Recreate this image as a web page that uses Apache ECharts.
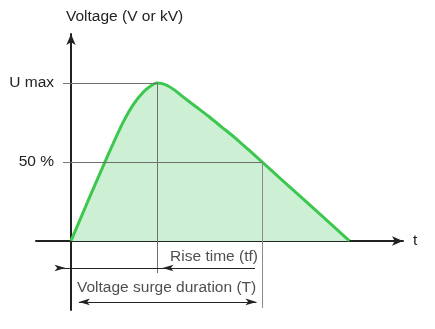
<!DOCTYPE html>
<html>
<head>
<meta charset="utf-8">
<script src="https://cdn.jsdelivr.net/npm/echarts@6/dist/echarts.min.js"></script>
<style>html,body{margin:0;padding:0;background:#fff}#c{width:435px;height:329px}</style>
</head>
<body>
<div id="c"></div>
<script>
// Surge waveform (time units arbitrary, voltage in % of U max)
const timeValues = [0, 4.2, 8.5, 10.6, 13.1, 15.6, 18.1, 20, 21.5, 22.8, 24.3, 26, 27.7, 31, 34.3, 37.7, 41, 44.3, 47.75, 57.25, 69.6];
const voltageValues = [0, 25, 50, 62, 75.5, 86.5, 94.3, 98.3, 100, 99.6, 98.1, 95.3, 91.8, 85.4, 79.1, 72.1, 65.3, 57.9, 50, 28.4, 0];
const yTickValues = [50, 100];
const yTickLabels = ['50 %', 'U max'];
const axisNames = { x: 't', y: 'Voltage (V or kV)' };
const riseTime = 21.5;      // tf
const surgeDuration = 47.75; // T
const annotationTexts = ['Rise time (tf)', 'Voltage surge duration (T)'];
const annotationPos = [[35.75, -10.1], [23.9, -29.7]];
const riseArrowY = -17.1;
const surgeArrowY = -38.6;

const xMin = -8.75, xMax = 83, yMin = -43.7, yMax = 131;
const wave = timeValues.map((t, i) => [t, voltageValues[i]]);
const textCol = '#222';
const FS = 15.5;
const helper = { color: '#6f6f6f', width: 1, type: 'solid' };
const arrowStyle = { color: '#222', width: 1, type: 'solid' };
const AH = [5, 11];
const aOff = 1.375; // half arrow length in x units

const chart = echarts.init(document.getElementById('c'), null, { renderer: 'canvas' });
chart.setOption({
  animation: false,
  backgroundColor: '#fff',
  textStyle: { fontFamily: 'Liberation Sans, Arial, sans-serif' },
  grid: { left: 36, right: 32, top: 34, bottom: 19, containLabel: false, outerBoundsMode: 'none' },
  xAxis: {
    type: 'value', min: xMin, max: xMax,
    name: axisNames.x, nameGap: 10,
    nameTextStyle: { fontSize: FS, color: textCol },
    axisLine: { onZero: true, lineStyle: { color: '#222', width: 2 }, symbol: ['none', 'arrow'], symbolSize: [7, 11] },
    axisTick: { show: false }, axisLabel: { show: false }, splitLine: { show: false }
  },
  yAxis: {
    type: 'value', min: yMin, max: yMax,
    name: axisNames.y, nameGap: 9, nameLocation: 'end',
    nameTextStyle: { fontSize: FS, color: textCol, align: 'left', padding: [0, 0, 0, -5] },
    axisLine: { onZero: true, lineStyle: { color: '#222', width: 2 }, symbol: ['none', 'arrow'], symbolSize: [7, 11] },
    axisTick: { show: true, customValues: yTickValues, length: 8, lineStyle: { color: '#777', width: 1 } },
    axisLabel: {
      show: true, customValues: yTickValues, margin: -18, fontSize: FS, color: textCol,
      formatter: v => yTickLabels[yTickValues.indexOf(v)]
    },
    splitLine: { show: false }
  },
  series: [
    {
      type: 'line', data: wave, smooth: 0.25, symbol: 'none', z: 1,
      lineStyle: { width: 0 }, areaStyle: { color: '#cdf0d4', opacity: 1 }
    },
    {
      type: 'line', data: [], z: 2, silent: true,
      markLine: {
        silent: true, symbol: 'none', label: { show: false },
        data: [
          [{ coord: [0, 100], lineStyle: helper }, { coord: [riseTime, 100] }],
          [{ coord: [0, 50], lineStyle: helper }, { coord: [surgeDuration, 50] }],
          [{ coord: [riseTime, 100], lineStyle: helper }, { coord: [riseTime, -20.3] }],
          [{ coord: [surgeDuration, 50], lineStyle: { color: '#8a8a8a', width: 1, type: 'solid' } }, { coord: [surgeDuration, -42.4] }],
          // rise-time arrow
          [{ coord: [-3.25, riseArrowY], lineStyle: arrowStyle }, { coord: [46, riseArrowY] }],
          [{ coord: [-3.25, riseArrowY], lineStyle: arrowStyle, symbol: 'none' }, { coord: [-aOff, riseArrowY], symbol: 'arrow', symbolSize: AH }],
          [{ coord: [46, riseArrowY], lineStyle: arrowStyle, symbol: 'none' }, { coord: [riseTime + aOff, riseArrowY], symbol: 'arrow', symbolSize: AH }],
          // surge duration arrow
          [{ coord: [aOff + 0.6, surgeArrowY], lineStyle: arrowStyle, symbol: 'arrow', symbolSize: AH }, { coord: [surgeDuration - aOff, surgeArrowY], symbol: 'arrow', symbolSize: AH }]
        ]
      }
    },
    {
      type: 'line', data: wave, smooth: 0.25, symbol: 'none', z: 3,
      lineStyle: { color: '#3cc74e', width: 3 }
    },
    {
      type: 'scatter', z: 4, symbolSize: 1, itemStyle: { color: 'rgba(0,0,0,0)' },
      data: annotationPos.map((p, i) => ({ value: p, name: annotationTexts[i] })),
      label: { show: true, position: 'inside', formatter: p => p.name, fontSize: FS, color: textCol }
    }
  ]
});
</script>
</body>
</html>
